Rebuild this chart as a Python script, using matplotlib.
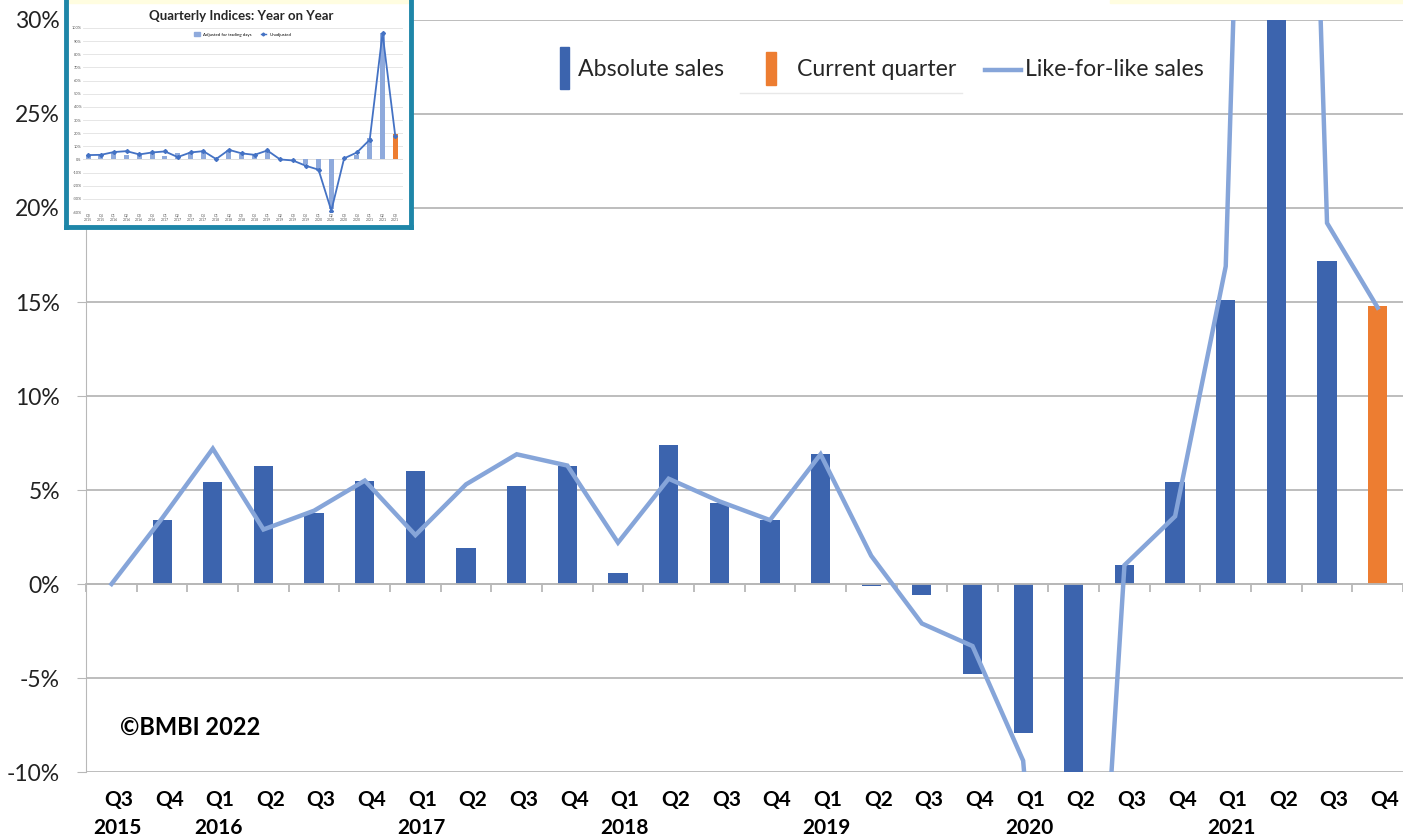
import numpy as np
import matplotlib
matplotlib.use('Agg')
import matplotlib.pyplot as plt
from matplotlib.patches import Rectangle
from matplotlib.lines import Line2D
from matplotlib.transforms import blended_transform_factory

plt.rcParams['font.family'] = ['Lato', 'DejaVu Sans']

################## data ##################################
quarters = ['Q3', 'Q4', 'Q1', 'Q2', 'Q3', 'Q4', 'Q1', 'Q2', 'Q3', 'Q4', 'Q1', 'Q2', 'Q3',
            'Q4', 'Q1', 'Q2', 'Q3', 'Q4', 'Q1', 'Q2', 'Q3', 'Q4', 'Q1', 'Q2', 'Q3', 'Q4']
years = ['2015', '', '2016', '', '', '', '2017', '', '', '', '2018', '', '',
         '', '2019', '', '', '', '2020', '', '', '', '2021', '', '', '']
absolute_sales = [0.0, 3.4, 5.4, 6.3, 3.8, 5.5, 6.0, 1.9, 5.2, 6.3, 0.6, 7.4, 4.3,
                  3.4, 6.9, -0.1, -0.6, -4.8, -7.9, -39.0, 1.0, 5.4, 15.1, 96.0, 17.2, 14.8]
like_for_like = [0.0, 3.5, 7.2, 2.9, 3.9, 5.5, 2.6, 5.3, 6.9, 6.3, 2.2, 5.6, 4.4,
                 3.4, 6.9, 1.5, -2.1, -3.3, -9.4, -42.0, 1.0, 3.6, 16.9, 105.0, 19.2, 14.7]

# small picture in the top left corner (Q3 2015 .. Q3 2021)
inset_quarters = quarters[:25]
inset_years = ['2015', '2015', '2016', '2016', '2016', '2016', '2017', '2017', '2017', '2017',
               '2018', '2018', '2018', '2018', '2019', '2019', '2019', '2019', '2020', '2020',
               '2020', '2020', '2021', '2021', '2021']
inset_adjusted = [3.0, 3.3, 5.5, 3.0, 4.0, 5.8, 2.5, 5.0, 6.0, 5.8, 0.0, 7.5, 4.3,
                  4.3, 6.8, 0.0, 0.0, -3.8, -8.9, -38.0, 0.0, 3.0, 16.0, 96.0, 19.0]
inset_unadjusted = [3.3, 3.5, 5.6, 6.3, 3.8, 5.3, 6.1, 1.8, 5.3, 6.3, 0.3, 7.3, 4.6,
                    3.5, 6.8, 0.0, -0.8, -4.8, -7.8, -39.0, 0.8, 5.3, 15.0, 96.0, 17.5]

W, H = 1403, 838
def px(x, y):
    # pixel position -> figure fraction
    return x / W, 1 - y / H

dark_blue = '#3C64AE'
orange = '#ED7D31'
light_blue = '#86A5D9'
grid_grey = '#B8B8B8'

fig = plt.figure(figsize=(W / 100, H / 100), dpi=100)

################## main chart ############################
ax = fig.add_axes([85.7 / W, 1 - 772 / H, (W - 85.7) / W, (772 - 20) / H])
x = np.arange(len(quarters))
bar_colors = [dark_blue] * (len(x) - 1) + [orange]
ax.bar(x, absolute_sales, width=0.38, color=bar_colors, zorder=2)
ax.plot(x, like_for_like, color=light_blue, lw=3.2, zorder=3, solid_joinstyle='miter')

ax.set_xlim(-0.51, 25.47)
ax.set_ylim(-10, 30)
yt = np.arange(-10, 31, 5)
ax.set_yticks(yt)
ax.set_yticklabels([f'{v}%' for v in yt], fontsize=16.5, color='#222222')
ax.yaxis.grid(True, color=grid_grey, lw=1.3, zorder=0)
ax.tick_params(axis='y', length=6.5, color=grid_grey, pad=12)

# category axis crosses at 0%, ticks between categories
ax.spines['bottom'].set_position(('data', 0))
ax.spines['bottom'].set_color(grid_grey)
ax.spines['bottom'].set_linewidth(1.3)
ax.spines['left'].set_color(grid_grey)
ax.spines['top'].set_visible(False)
ax.spines['right'].set_visible(False)
ax.set_xticks(np.arange(-0.5, len(x), 1))
ax.set_xticklabels([])
ax.tick_params(axis='x', length=6, color=grid_grey, width=1.3)
ax.set_axisbelow(True)

tr = blended_transform_factory(ax.transData, fig.transFigure)
for i, (q, yr) in enumerate(zip(quarters, years)):
    ax.text(i + 0.14, px(0, 800)[1], q, transform=tr, ha='center', va='center',
            fontsize=15, fontweight='bold', color='black', clip_on=False)
    if yr:
        ax.text(i + 0.12, px(0, 828)[1], yr, transform=tr, ha='center', va='center',
                fontsize=15, fontweight='bold', color='black', clip_on=False)

fig.text(*px(120, 727), '©BMBI 2022', fontsize=17, fontweight='bold', va='center', ha='left')

# legend drawn by hand
fig.add_artist(Rectangle(px(560, 89), 9 / W, 42 / H, transform=fig.transFigure, color=dark_blue))
fig.text(*px(578, 70), 'Absolute sales', fontsize=16.7, va='center', color='#262626')
fig.add_artist(Rectangle(px(766, 85), 10 / W, 33 / H, transform=fig.transFigure, color=orange))
fig.text(*px(797, 70), 'Current quarter', fontsize=16.7, va='center', color='#262626')
fig.add_artist(Line2D([985 / W, 1021 / W], [1 - 70 / H] * 2, transform=fig.transFigure,
                      color=light_blue, lw=3.2))
fig.text(*px(1025, 70), 'Like-for-like sales', fontsize=16.7, va='center', color='#262626')
fig.add_artist(Line2D([740 / W, 962 / W], [1 - 93 / H] * 2, transform=fig.transFigure,
                      color='#E8E8E8', lw=1))
fig.add_artist(Rectangle(px(1110, 3), 293 / W, 3 / H, transform=fig.transFigure, color='#FFFDE0'))

################## inset picture ############################
frame = fig.add_axes([66 / W, 1 - 227 / H, 345 / W, 227 / H], zorder=5)
frame.set_xticks([])
frame.set_yticks([])
frame.axhspan(0.985, 1.0, color='#FFFDE0')
for s in ['left', 'right', 'bottom']:
    frame.spines[s].set_color('#1E86A8')
    frame.spines[s].set_linewidth(3.5)
frame.spines['top'].set_visible(False)
frame.set_xlim(0, 1)
frame.set_ylim(0, 1)
fig.text(*px(241, 16), 'Quarterly Indices: Year on Year', fontsize=9.5, fontweight='bold',
         ha='center', va='center', color='#262626', zorder=7)

ins = fig.add_axes([83 / W, 1 - 212 / H, 320 / W, 184 / H], zorder=6)
ins.patch.set_alpha(0)
xi = np.arange(len(inset_quarters))
ins.bar(xi, inset_adjusted, width=0.4, color=['#8FAADC'] * 24 + [orange], zorder=2)
ins.plot(xi, inset_unadjusted, color='#4472C4', lw=1.3, marker='D', ms=2, zorder=3)
ins.set_xlim(-0.4, 24.6)
ins.set_ylim(-40, 100)
iy = np.arange(-40, 101, 10)
ins.set_yticks(iy)
ins.set_yticklabels([f'{v}%' for v in iy], fontsize=2.8, color='#555555')
ins.yaxis.grid(True, color='#E2E2E2', lw=0.6)
ins.set_xticks(xi)
ins.set_xticklabels([f'{q}\n{y}' for q, y in zip(inset_quarters, inset_years)], fontsize=2.5,
                    color='#555555')
ins.tick_params(length=0, pad=1)
for s in ins.spines.values():
    s.set_visible(False)
ins.axhline(0, color='#D0D0D0', lw=0.6, zorder=1)
ins.legend(handles=[Rectangle((0, 0), 1, 1, color='#8FAADC'),
                    Line2D([], [], color='#4472C4', lw=1, marker='D', ms=1.5)],
           labels=['Adjusted for trading days', 'Unadjusted'], loc='upper center',
           ncol=2, fontsize=3.2, frameon=False, handlelength=1.2, handleheight=1,
           columnspacing=2, bbox_to_anchor=(0.5, 1.0))

fig.savefig('out.png', dpi=100)
